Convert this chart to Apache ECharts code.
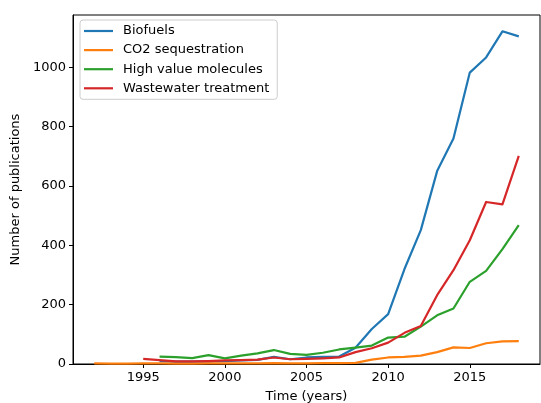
<!DOCTYPE html>
<html>
<head>
<meta charset="utf-8">
<script src="https://cdn.jsdelivr.net/npm/echarts@6/dist/echarts.min.js"></script>
<style>
  html, body { margin: 0; padding: 0; background: #fff; }
  #main { width: 541px; height: 403px; }
</style>
</head>
<body>
<div id="main"></div>
<script>
// publications per year
const biofuelYears = [1996, 1997, 1998, 1999, 2000, 2001, 2002, 2003, 2004, 2005, 2006, 2007, 2008, 2009, 2010, 2011, 2012, 2013, 2014, 2015, 2016, 2017, 2018]
const biofuels = [10, 8, 8, 9, 10, 12, 14, 24, 16, 22, 24, 25, 55, 118, 168, 320, 451, 650, 760, 982, 1033, 1121, 1104]

const co2Years = [1992, 1993, 1994, 1995, 1996, 1997, 1998, 1999, 2000, 2001, 2002, 2003, 2004, 2005, 2006, 2007, 2008, 2009, 2010, 2011, 2012, 2013, 2014, 2015, 2016, 2017, 2018]
const co2 = [2, 1, 1, 2, 2, 1, 1, 2, 2, 2, 2, 3, 2, 2, 3, 3, 4, 15, 22, 24, 28, 40, 56, 54, 70, 76, 77]

const hvmYears = [1996, 1997, 1998, 1999, 2000, 2001, 2002, 2003, 2004, 2005, 2006, 2007, 2008, 2009, 2010, 2011, 2012, 2013, 2014, 2015, 2016, 2017, 2018]
const highValue = [25, 23, 20, 30, 19, 28, 36, 47, 34, 31, 38, 49, 55, 62, 89, 92, 126, 164, 187, 277, 314, 387, 468]

const wasteYears = [1995, 1996, 1997, 1998, 1999, 2000, 2001, 2002, 2003, 2004, 2005, 2006, 2007, 2008, 2009, 2010, 2011, 2012, 2013, 2014, 2015, 2016, 2017, 2018]
const wastewater = [17, 13, 9, 9, 10, 12, 13, 15, 22, 16, 17, 19, 22, 40, 53, 72, 105, 128, 232, 316, 417, 546, 538, 701]

const xTicks = [1995, 2000, 2005, 2010, 2015]
const yTicks = [0, 200, 400, 600, 800, 1000]

const pairs = (xs, ys) => xs.map((x, i) => [x, ys[i]])

const font = 'DejaVu Sans'
const chart = echarts.init(document.getElementById('main'), null, { renderer: 'canvas' })

function mkSeries (name, xs, ys, color) {
  return {
    name: name,
    type: 'line',
    data: pairs(xs, ys),
    symbol: 'none',
    color: color,
    lineStyle: { width: 2.2, color: color, join: 'round' },
    animation: false
  }
}

chart.setOption({
  animation: false,
  textStyle: { fontFamily: font },
  grid: {
    left: 73, right: 1, top: 15, bottom: 39,
    outerBoundsMode: 'none',
    containLabel: false,
    show: true, borderColor: '#000', borderWidth: 1
  },
  legend: {
    orient: 'vertical',
    left: 80, top: 20,
    icon: 'rect',
    itemWidth: 29, itemHeight: 2.2,
    itemGap: 5.1,
    padding: [4, 8, 4, 4],
    backgroundColor: 'rgba(255,255,255,0.8)',
    borderColor: '#cccccc', borderWidth: 1, borderRadius: 3,
    textStyle: { fontFamily: font, fontSize: 13, color: '#000', lineHeight: 14, padding: [0, 0, 0, 5] },
    data: ['Biofuels', 'CO2 sequestration', 'High value molecules', 'Wastewater treatment']
  },
  xAxis: {
    type: 'value',
    min: 1990.7, max: 2019.3,
    name: 'Time (years)',
    nameLocation: 'middle', nameGap: 26,
    nameTextStyle: { fontFamily: font, fontSize: 13, color: '#000' },
    axisLine: { show: true, lineStyle: { color: '#000', width: 1 } },
    axisTick: { show: true, length: 4, lineStyle: { color: '#000' }, customValues: xTicks },
    axisLabel: { fontFamily: font, fontSize: 13, color: '#000', margin: 7, customValues: xTicks, formatter: v => String(v) },
    splitLine: { show: false }
  },
  yAxis: {
    type: 'value',
    min: 0, max: 1176,
    name: 'Number of publications',
    nameLocation: 'middle', nameGap: 47, nameRotate: 90,
    nameTextStyle: { fontFamily: font, fontSize: 13, color: '#000' },
    axisLine: { show: true, lineStyle: { color: '#000', width: 1 } },
    axisTick: { show: true, length: 4, lineStyle: { color: '#000' }, customValues: yTicks },
    axisLabel: { fontFamily: font, fontSize: 13, color: '#000', margin: 7, customValues: yTicks, formatter: v => String(v) },
    splitLine: { show: false }
  },
  series: [
    mkSeries('Biofuels', biofuelYears, biofuels, '#1f77b4'),
    mkSeries('CO2 sequestration', co2Years, co2, '#ff7f0e'),
    mkSeries('High value molecules', hvmYears, highValue, '#2ca02c'),
    mkSeries('Wastewater treatment', wasteYears, wastewater, '#d62728')
  ]
})
</script>
</body>
</html>
